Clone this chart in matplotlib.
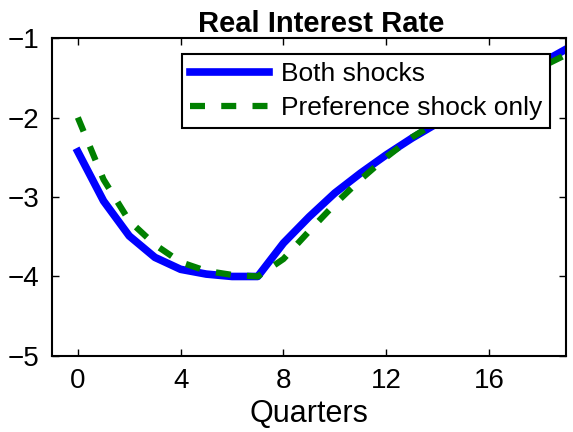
import matplotlib
matplotlib.use("Agg")
import matplotlib.pyplot as plt

plt.rcParams['font.family'] = ['Liberation Sans', 'DejaVu Sans']

quarters = list(range(20))
both_shocks = [-2.43, -3.05, -3.49, -3.76, -3.91, -3.97, -4.0, -4.0,
               -3.58, -3.25, -2.95, -2.70, -2.47, -2.26, -2.07, -1.88,
               -1.69, -1.50, -1.32, -1.14]
pref_only = [-2.0, -2.78, -3.30, -3.60, -3.82, -3.93, -3.98, -4.0,
             -3.78, -3.43, -3.09, -2.78, -2.50, -2.25, -2.05, -1.87,
             -1.70, -1.53, -1.37, -1.21]
xticks = [0, 4, 8, 12, 16]
yticks = [-5, -4, -3, -2, -1]

fig = plt.figure(figsize=(5.73, 4.32), dpi=100)
ax = fig.add_axes([0.091, 0.176, 0.897, 0.736])

ax.plot(quarters, both_shocks, color='#0000ff', lw=5.5, label='Both shocks')
ax.plot(quarters, pref_only, color='#008000', lw=4.5, ls=(0, (2.4, 2.6)),
        label='Preference shock only')

ax.set_xlim(-1, 19)
ax.set_ylim(-5, -1)
ax.set_xticks(xticks)
ax.set_yticks(yticks)
ax.set_yticklabels(['\u22125', '\u22124', '\u22123', '\u22122', '\u22121'])
ax.tick_params(direction='in', length=5, width=1, top=True, right=True,
               labelsize=20, pad=9)
for s in ax.spines.values():
    s.set_linewidth(1.5)

ax.set_title('Real Interest Rate', fontsize=21, fontweight='bold', pad=4,
             x=0.524)
ax.set_xlabel('Quarters', fontsize=22, labelpad=3)

leg = ax.legend(loc='upper right', fontsize=19, frameon=True, fancybox=False,
                edgecolor='black', framealpha=1, handlelength=3.0,
                handletextpad=0.45, borderpad=0.3, labelspacing=0.4,
                borderaxespad=0.6)
leg.get_frame().set_linewidth(1.5)

fig.savefig('out.png', dpi=100)
